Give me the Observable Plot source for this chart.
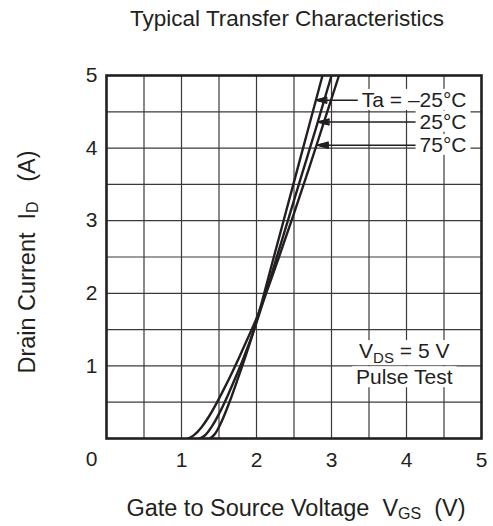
<!DOCTYPE html>
<html>
<head>
<meta charset="utf-8">
<script src="https://cdn.jsdelivr.net/npm/d3@7"></script>
<script src="https://cdn.jsdelivr.net/npm/@observablehq/plot@0.6"></script>
<style>
  body { margin: 0; background: #fff; }
  svg { display: block; }
</style>
</head>
<body>
<div id="chart"></div>
<script>
// ---- data ----
const chartTitle = "Typical Transfer Characteristics";
const xAxisTitle = ["Gate to Source Voltage\u00a0\u00a0V", "GS", "\u00a0\u00a0(V)"];
const yAxisTitle = ["Drain Current\u00a0\u00a0I", "D", "\u00a0\u00a0\u00a0(A)"];

// Ta = -25 °C : gate voltage (V) and drain current (A)
const vgsMinus25 = [1.38, 1.45, 1.55, 1.65, 1.75, 1.85, 1.95, 2.05, 2.20, 2.40, 2.60, 2.80, 2.88];
const idMinus25  = [0.00, 0.07, 0.27, 0.53, 0.82, 1.12, 1.44, 1.80, 2.38, 3.15, 3.92, 4.69, 5.00];
// Ta = 25 °C
const vgs25 = [1.24, 1.32, 1.42, 1.52, 1.62, 1.72, 1.82, 1.92, 2.02, 2.20, 2.40, 2.60, 2.80, 3.00];
const id25  = [0.00, 0.05, 0.19, 0.38, 0.60, 0.84, 1.09, 1.36, 1.66, 2.26, 2.94, 3.62, 4.30, 5.00];
// Ta = 75 °C
const vgs75 = [1.09, 1.17, 1.27, 1.37, 1.47, 1.57, 1.67, 1.77, 1.87, 1.97, 2.10, 2.30, 2.50, 2.70, 2.90, 3.10];
const id75  = [0.00, 0.05, 0.16, 0.31, 0.49, 0.69, 0.90, 1.12, 1.35, 1.58, 1.92, 2.50, 3.10, 3.72, 4.36, 5.00];

const seriesLabels = ["Ta = \u201325\u00b0C", "25\u00b0C", "75\u00b0C"];
const labelCurrent = [4.66, 4.36, 4.04];
const labelRightV = [4.8, 4.8, 4.8];
const arrowTailV = [3.35, 4.18, 4.18];
const arrowTipV = [2.79, 2.82, 2.81];

const conditionLines = ["VDS = 5 V", "Pulse Test"];
const conditionCurrent = [1.2, 0.84];
const conditionV = [3.97, 3.97];

const xTicks = [1, 2, 3, 4, 5];
const yTicks = [1, 2, 3, 4, 5];
const gridTicks = [0.5, 1, 1.5, 2, 2.5, 3, 3.5, 4, 4.5];
const originLabel = ["0"];

// ---- build tables ----
const seriesV = [vgsMinus25, vgs25, vgs75];
const seriesI = [idMinus25, id25, id75];
const curves = seriesV.flatMap((vs, s) =>
  vs.map((v, k) => ({ series: seriesLabels[s], v, i: seriesI[s][k] }))
);
const arrows = seriesLabels.map((name, k) => ({
  name, i: labelCurrent[k], tail: arrowTailV[k], tip: arrowTipV[k], right: labelRightV[k]
}));
const conditions = conditionLines.map((t, k) => ({ t, i: conditionCurrent[k], v: conditionV[k] }));
const origin = originLabel.map(t => ({ t, v: 0, i: 0 }));

const ink = "#231f20";

const plot = Plot.plot({
  width: 493,
  height: 526,
  marginTop: 75,
  marginBottom: 88,
  marginLeft: 106,
  marginRight: 12,
  style: {
    fontFamily: "'Liberation Sans', Arial, sans-serif",
    fontSize: "21px",
    color: ink,
    background: "#fff"
  },
  x: { domain: [0, 5], label: null },
  y: { domain: [0, 5], label: null },
  marks: [
    Plot.gridX(gridTicks, { stroke: "#3a3a3a", strokeOpacity: 1, strokeWidth: 1.2 }),
    Plot.gridY(gridTicks, { stroke: "#3a3a3a", strokeOpacity: 1, strokeWidth: 1.2 }),
    Plot.line(curves, {
      x: "v", y: "i", z: "series",
      stroke: ink, strokeWidth: 2.4, curve: "monotone-x", clip: true
    }),
    Plot.arrow(arrows, {
      x1: "tail", y1: "i", x2: "tip", y2: "i",
      stroke: ink, strokeWidth: 1.4, headLength: 12, headAngle: 30
    }),
    Plot.text(arrows, {
      x: "right", y: "i", text: "name", textAnchor: "end",
      fill: ink, fontSize: 21
    }),
    Plot.text(conditions, {
      x: "v", y: "i", text: "t", textAnchor: "middle",
      fill: ink, fontSize: 21
    }),
    Plot.frame({ stroke: ink, strokeWidth: 2.6 }),
    Plot.axisX(xTicks, { tickSize: 0, tickPadding: 14, fontSize: 21, label: null, fill: ink, tickFormat: d => String(d) }),
    Plot.axisY(yTicks, { tickSize: 0, tickPadding: 9, fontSize: 21, label: null, fill: ink, tickFormat: d => String(d) }),
    Plot.text(origin, { x: "v", y: "i", text: "t", dx: -15, dy: 21, fontSize: 21, fill: ink })
  ]
});

document.getElementById("chart").appendChild(plot);

const svg = d3.select(plot);

// filled arrowheads (reuse the geometry Plot computed)
svg.selectAll("g[aria-label='arrow'] path").each(function () {
  const nums = (this.getAttribute("d").match(/-?\d*\.?\d+(e-?\d+)?/g) || []).map(Number);
  if (nums.length >= 10) {
    const [, , tx, ty, ax, ay, , , bx, by] = nums;
    d3.select(this.parentNode).append("path")
      .attr("d", `M${ax},${ay}L${tx},${ty}L${bx},${by}Z`)
      .attr("fill", ink).attr("stroke", ink).attr("stroke-width", 1);
  }
});

// subscript in "VDS = 5 V"
svg.selectAll("text")
  .filter(function () { return this.textContent === conditionLines[0]; })
  .each(function () {
    const el = d3.select(this);
    el.text(null);
    el.append("tspan").text("V");
    el.append("tspan").attr("font-size", 15).attr("dy", 5).text("DS");
    el.append("tspan").attr("dy", -5).text(" = 5 V");
  });

// white boxes behind annotation texts (sized from their own bounding boxes)
const boxed = new Set([...seriesLabels, "VDS = 5 V", conditionLines[1]]);
svg.selectAll("text")
  .filter(function () { return boxed.has(this.textContent); })
  .each(function () {
    const b = this.getBBox();
    const pad = 4;
    const r = document.createElementNS("http://www.w3.org/2000/svg", "rect");
    r.setAttribute("x", b.x - pad);
    r.setAttribute("y", b.y + 1);
    r.setAttribute("width", b.width + 2 * pad);
    r.setAttribute("height", b.height - 2);
    r.setAttribute("fill", "white");
    const t = this.getAttribute("transform");
    if (t) r.setAttribute("transform", t);
    this.parentNode.insertBefore(r, this);
  });

// title
svg.append("text")
  .attr("x", 287).attr("y", 18)
  .attr("text-anchor", "middle")
  .attr("dominant-baseline", "central")
  .attr("font-size", 22.5)
  .attr("fill", ink)
  .text(chartTitle);

// helper for labels with subscript
function subLabel(g, parts) {
  g.append("tspan").text(parts[0]);
  g.append("tspan").attr("font-size", 16).attr("dy", 5).text(parts[1]);
  g.append("tspan").attr("dy", -5).text(parts[2]);
}

const xl = svg.append("text")
  .attr("x", 296).attr("y", 508)
  .attr("text-anchor", "middle")
  .attr("dominant-baseline", "central")
  .attr("font-size", 23.5)
  .attr("fill", ink);
subLabel(xl, xAxisTitle);

const yl = svg.append("text")
  .attr("transform", "translate(27,262) rotate(-90)")
  .attr("text-anchor", "middle")
  .attr("dominant-baseline", "central")
  .attr("font-size", 23.5)
  .attr("fill", ink);
subLabel(yl, yAxisTitle);
</script>
</body>
</html>
